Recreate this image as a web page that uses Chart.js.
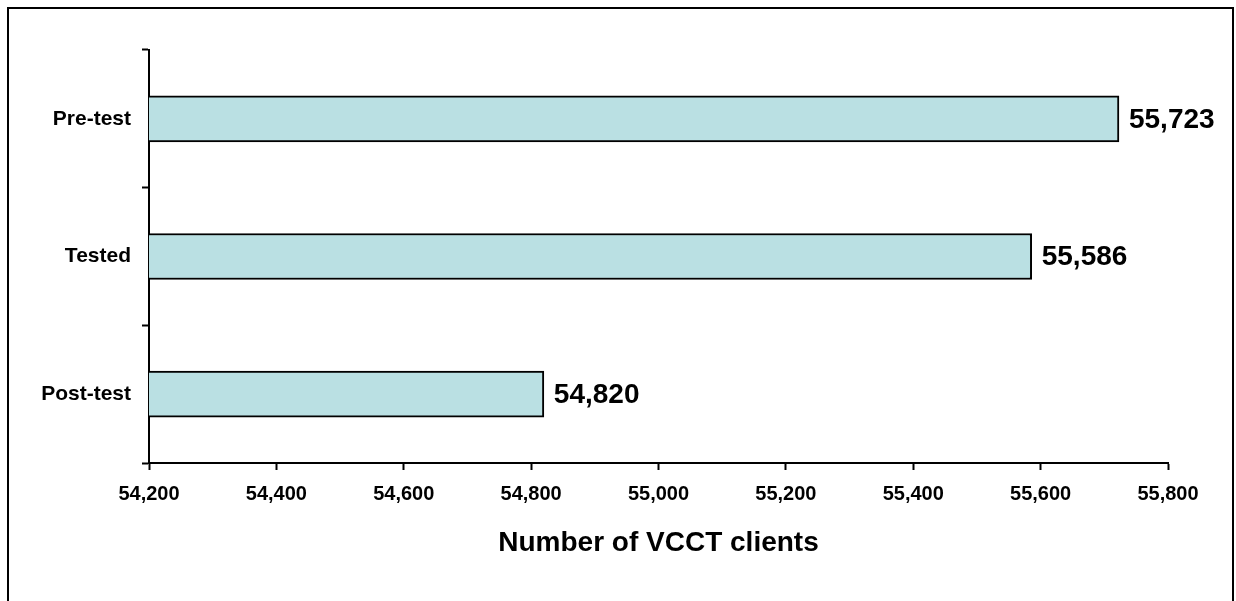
<!DOCTYPE html>
<html>
<head>
<meta charset="utf-8">
<script src="https://cdn.jsdelivr.net/npm/chart.js@4"></script>
<style>
    html, body { margin: 0; padding: 0; background: #fff; }
    #wrap { position: relative; width: 1236px; height: 601px; overflow: hidden; }
    #frame { position: absolute; left: 7px; top: 7px; width: 1223px; height: 600px; border: 2px solid #000; }
    #chart { position: absolute; left: 0; top: 0; }
</style>
</head>
<body>
<div id="wrap">
    <div id="frame"></div>
    <canvas id="chart" width="1236" height="601"></canvas>
</div>
<script>
const stages = ['Pre-test', 'Tested', 'Post-test'];
const clients = [55723, 55586, 54820];
const xTicks = [54200, 54400, 54600, 54800, 55000, 55200, 55400, 55600, 55800];

const fmt = v => Number(v).toLocaleString('en-US');

// write each value to the right of its bar
const valueLabels = {
    id: 'valueLabels',
    afterDatasetsDraw(chart) {
        const ctx = chart.ctx;
        const meta = chart.getDatasetMeta(0);
        ctx.save();
        ctx.font = 'bold 28px "Liberation Sans", Arial, sans-serif';
        ctx.fillStyle = '#000';
        ctx.textAlign = 'left';
        ctx.textBaseline = 'middle';
        meta.data.forEach((bar, i) => {
            ctx.fillText(fmt(clients[i]), bar.x + 10, bar.y + 1);
        });
        ctx.restore();
    }
};

const ctx = document.getElementById('chart').getContext('2d');
const chart = new Chart(ctx, {
    type: 'bar',
    data: {
        labels: stages,
        datasets: [{
            data: clients,
            backgroundColor: '#BAE0E3',
            borderColor: '#000',
            borderWidth: 2,
            barThickness: 46
        }]
    },
    options: {
        indexAxis: 'y',
        responsive: false,
        animation: false,
        layout: { padding: { top: 50, right: 68, bottom: 0, left: 0 } },
        plugins: {
            legend: { display: false },
            tooltip: { enabled: false }
        },
        scales: {
            x: {
                min: 54200,
                max: 55800,
                afterBuildTicks: scale => {
                    scale.ticks = xTicks.map(v => ({ value: v }));
                },
                afterFit: scale => { scale.height = 138; },
                border: { display: true, color: '#000', width: 2 },
                grid: {
                    drawOnChartArea: false,
                    drawTicks: true,
                    tickLength: 7,
                    tickColor: '#000',
                    tickWidth: 2
                },
                ticks: {
                    color: '#000',
                    padding: 12,
                    maxRotation: 0,
                    font: { family: '"Liberation Sans", Arial, sans-serif', size: 20, weight: 'bold' },
                    callback: v => fmt(v)
                },
                title: {
                    display: true,
                    text: 'Number of VCCT clients',
                    color: '#000',
                    padding: { top: 0, bottom: 41 },
                    font: { family: '"Liberation Sans", Arial, sans-serif', size: 28, weight: 'bold' }
                }
            },
            y: {
                afterFit: scale => { scale.width = 149; },
                border: { display: true, color: '#000', width: 2 },
                grid: {
                    offset: true,
                    drawOnChartArea: false,
                    drawTicks: true,
                    tickLength: 7,
                    tickColor: '#000',
                    tickWidth: 2
                },
                ticks: {
                    color: '#000',
                    padding: 11,
                    font: { family: '"Liberation Sans", Arial, sans-serif', size: 21, weight: 'bold' }
                }
            }
        }
    },
    plugins: [valueLabels]
});
</script>
</body>
</html>
